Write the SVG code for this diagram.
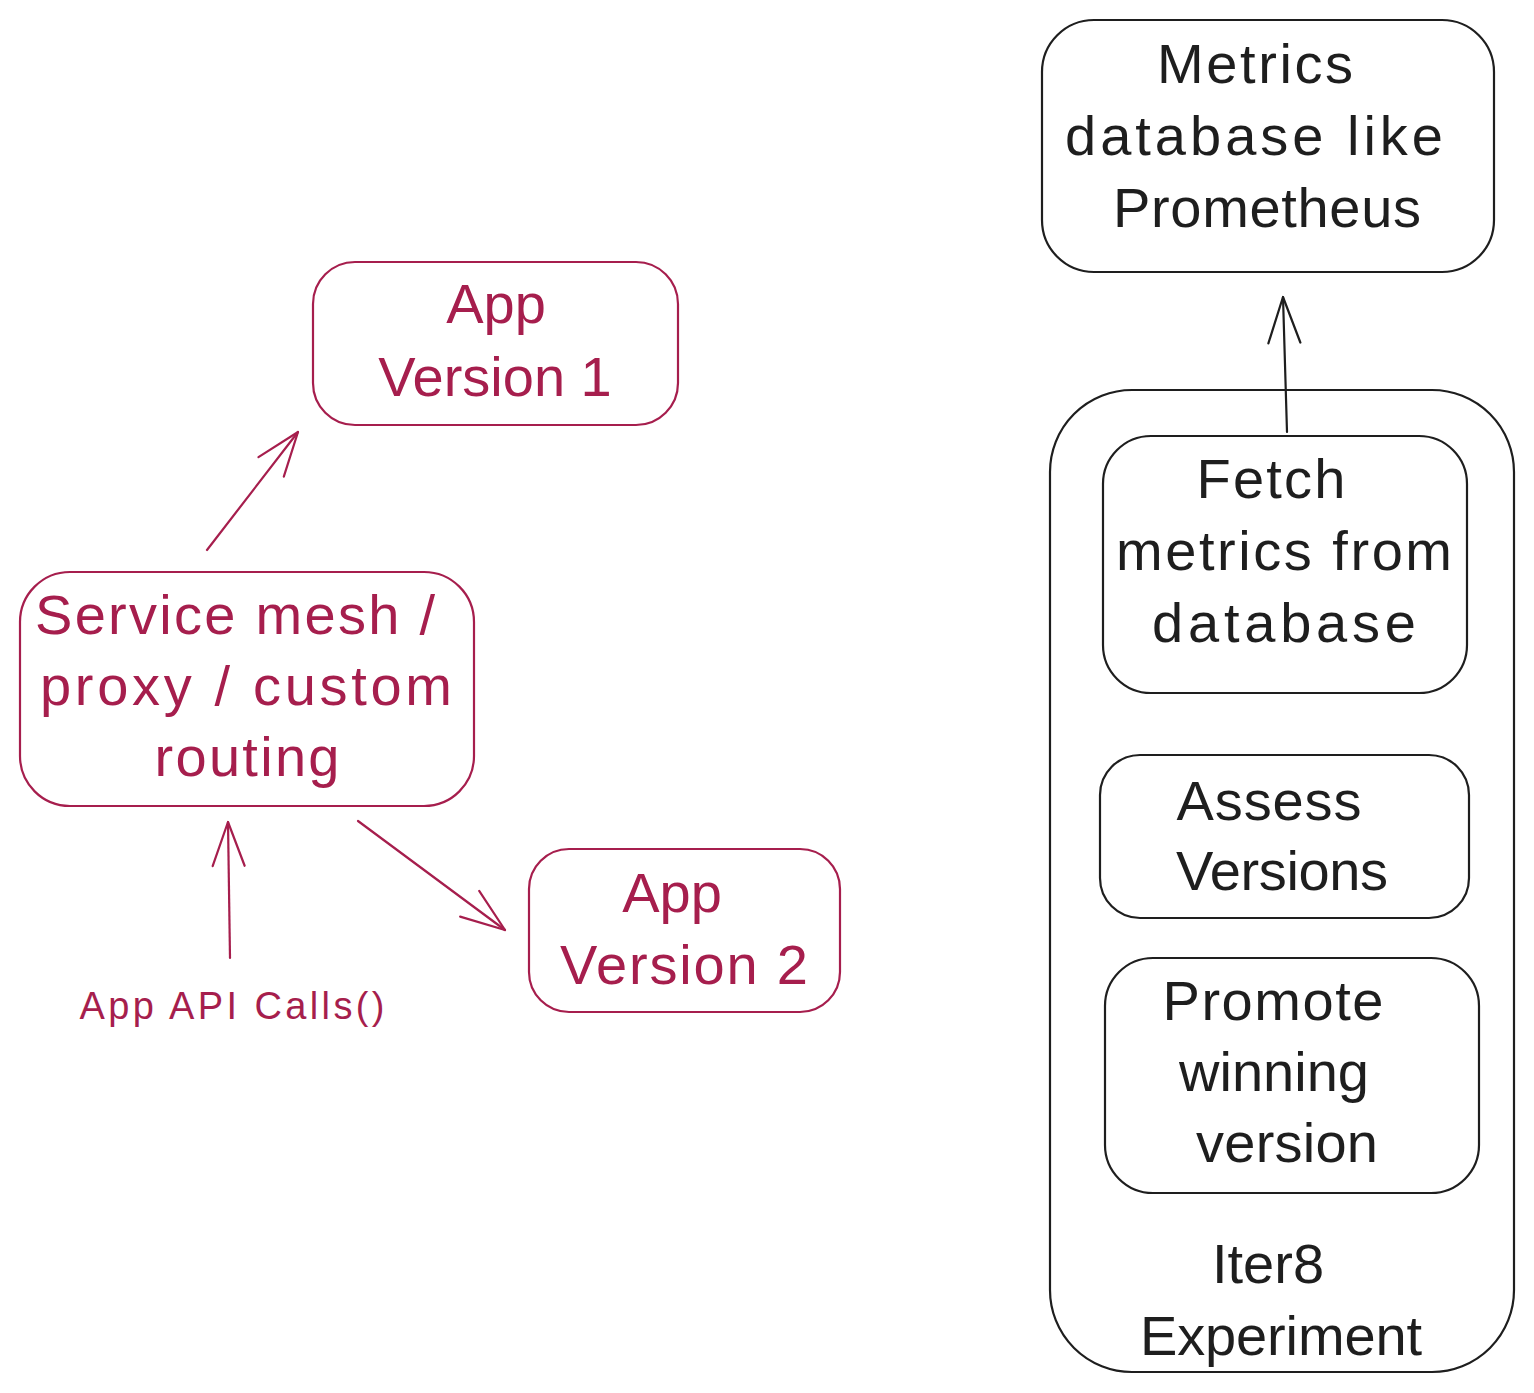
<svg xmlns="http://www.w3.org/2000/svg" width="1534" height="1393" viewBox="0 0 1534 1393">
<style>
.box{fill:none;stroke-width:2.2;stroke-linejoin:round}
.blk{stroke:#1e1e1e}
.red{stroke:#a61e4d}
.t{font-family:"Liberation Sans","DejaVu Sans",sans-serif;font-size:56px;text-anchor:middle}
.tb{fill:#1e1e1e}
.tr{fill:#a61e4d}
.conn{fill:none;stroke-width:2.2;stroke-linecap:round}
</style>
<defs>
<marker id="ahR" markerUnits="userSpaceOnUse" markerWidth="60" markerHeight="60" viewBox="-50 -30 60 60" refX="0" refY="0" orient="auto">
<path d="M-44,-16 L0,0 L-44,16" fill="none" stroke="#a61e4d" stroke-width="2.2" stroke-linecap="round" stroke-linejoin="round"/>
</marker>
<marker id="ahB" markerUnits="userSpaceOnUse" markerWidth="60" markerHeight="60" viewBox="-50 -30 60 60" refX="0" refY="0" orient="auto">
<path d="M-46,-16 L0,0 L-46,16" fill="none" stroke="#1e1e1e" stroke-width="2.2" stroke-linecap="round" stroke-linejoin="round"/>
</marker>
</defs>
<rect width="1534" height="1393" fill="#ffffff"/>

<g id="metrics-db">
<rect class="box blk" x="1042" y="20" width="452" height="252" rx="52"/>
<text class="t tb" x="1255" y="83" textLength="196" lengthAdjust="spacing">Metrics</text>
<text class="t tb" x="1254" y="155" textLength="378" lengthAdjust="spacing">database like</text>
<text class="t tb" x="1267" y="227" textLength="308" lengthAdjust="spacing">Prometheus</text>
</g>

<g id="app-v1">
<rect class="box red" x="313" y="262" width="365" height="163" rx="42"/>
<text class="t tr" x="496" y="323">App</text>
<text class="t tr" x="495" y="396">Version 1</text>
</g>

<g id="service-mesh">
<rect class="box red" x="20" y="572" width="454" height="234" rx="50"/>
<text class="t tr" x="235" y="634" textLength="400" lengthAdjust="spacing">Service mesh /</text>
<text class="t tr" x="246" y="705" textLength="412" lengthAdjust="spacing">proxy / custom</text>
<text class="t tr" x="247" y="776" textLength="185" lengthAdjust="spacing">routing</text>
</g>

<g id="app-v2">
<rect class="box red" x="529" y="849" width="311" height="163" rx="40"/>
<text class="t tr" x="672" y="912">App</text>
<text class="t tr" x="684" y="984" textLength="248" lengthAdjust="spacing">Version 2</text>
</g>

<g id="api-calls">
<text class="t tr" x="232" y="1019" style="font-size:38px" textLength="305" lengthAdjust="spacing">App API Calls()</text>
</g>

<g id="iter8">
<rect class="box blk" x="1050" y="390" width="464" height="982" rx="82"/>
<text class="t tb" x="1268" y="1283">Iter8</text>
<text class="t tb" x="1281" y="1355" textLength="282" lengthAdjust="spacing">Experiment</text>
</g>

<g id="fetch">
<rect class="box blk" x="1103" y="436" width="364" height="257" rx="48"/>
<text class="t tb" x="1271" y="498" textLength="149" lengthAdjust="spacing">Fetch</text>
<text class="t tb" x="1284" y="570" textLength="336" lengthAdjust="spacing">metrics from</text>
<text class="t tb" x="1284" y="642" textLength="264" lengthAdjust="spacing">database</text>
</g>

<g id="assess">
<rect class="box blk" x="1100" y="755" width="369" height="163" rx="40"/>
<text class="t tb" x="1269" y="820" textLength="185" lengthAdjust="spacing">Assess</text>
<text class="t tb" x="1282" y="890" textLength="212" lengthAdjust="spacing">Versions</text>
</g>

<g id="promote">
<rect class="box blk" x="1105" y="958" width="374" height="235" rx="48"/>
<text class="t tb" x="1273" y="1020" textLength="221" lengthAdjust="spacing">Promote</text>
<text class="t tb" x="1274" y="1091">winning</text>
<text class="t tb" x="1287" y="1162" textLength="182" lengthAdjust="spacing">version</text>
</g>

<g id="connectors">
<line class="conn red" x1="207" y1="550" x2="298" y2="432" marker-end="url(#ahR)"/>
<line class="conn red" x1="358" y1="821" x2="505" y2="930" marker-end="url(#ahR)"/>
<line class="conn red" x1="230" y1="958" x2="228" y2="822" marker-end="url(#ahR)"/>
<line class="conn blk" x1="1287" y1="432" x2="1283" y2="297" marker-end="url(#ahB)"/>
</g>
</svg>
